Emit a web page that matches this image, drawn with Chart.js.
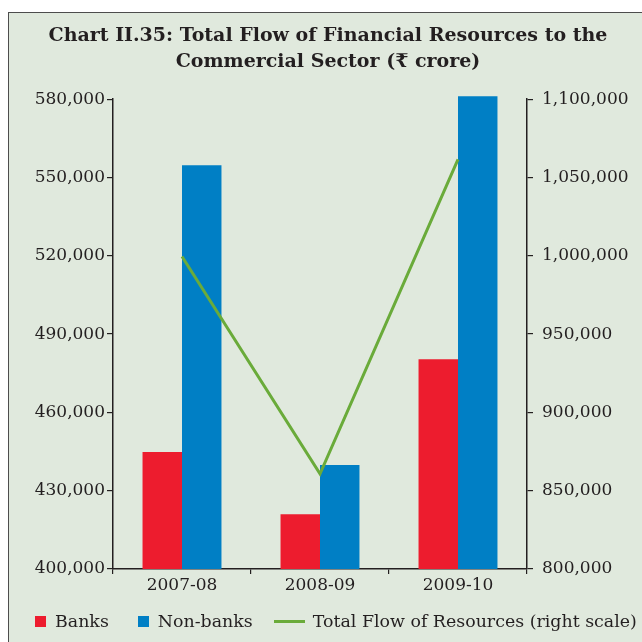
<!DOCTYPE html>
<html>
<head>
<meta charset="utf-8">
<script src="https://cdn.jsdelivr.net/npm/chart.js@4.4.0/dist/chart.umd.min.js"></script>
<style>
  html, body { margin: 0; padding: 0; width: 642px; height: 642px; overflow: hidden; background: #fff; }
  #frame {
    position: absolute; left: 8px; top: 12px; width: 700px; height: 700px;
    background: #e0e9dd; border-left: 1.5px solid #4d4d4d; border-top: 1.5px solid #4d4d4d;
  }
  #wrap { position: absolute; left: 0; top: 0; width: 642px; height: 642px; }
  #legend {
    position: absolute; left: 35px; top: 611px; display: flex; align-items: center;
    font-family: "DejaVu Serif", serif; font-size: 17.4px; color: #231f20; white-space: nowrap;
  }
  .sw { display: inline-block; width: 11px; height: 11px; margin-right: 9px; }
  .ln { display: inline-block; width: 31px; height: 3px; margin-right: 8px; }
  .item { display: flex; align-items: center; margin-right: 29px; }
  .item.mid { margin-right: 21px; }
  .item.last { margin-right: 0; }
</style>
</head>
<body>
<div id="frame"></div>
<div id="wrap"><canvas id="chart" width="642" height="642"></canvas></div>
<div id="legend"></div>
<script>
const years = ["2007-08", "2008-09", "2009-10"];
const banks = [444800, 421000, 480400];
const nonBanks = [554700, 439800, 581100];
const totalFlow = [999500, 860800, 1061500];

const leftTicks = { min: 400000, max: 580000, step: 30000 };
const rightTicks = { min: 800000, max: 1100000, step: 50000 };

const red = "#ed1c2e";
const blue = "#007fc5";
const green = "#6aab3a";
const ink = "#231f20";
const tickFont = { family: "DejaVu Serif", size: 17 };

const ctx = document.getElementById("chart").getContext("2d");
new Chart(ctx, {
  data: {
    labels: years,
    datasets: [
      {
        type: "bar", label: "Banks", data: banks, backgroundColor: red,
        yAxisID: "y", order: 1, categoryPercentage: 0.572, barPercentage: 1,
      },
      {
        // last bar pokes a little above the top of the scale, as in the original
        type: "bar", label: "Non-banks", data: nonBanks, backgroundColor: blue,
        yAxisID: "y", order: 1, categoryPercentage: 0.572, barPercentage: 1,
        clip: { left: 0, right: 0, top: 6, bottom: 0 },
      },
      {
        type: "line", label: "Total Flow of Resources (right scale)", data: totalFlow,
        borderColor: green, borderWidth: 3, pointRadius: 0, tension: 0,
        yAxisID: "y1", order: 0,
      },
    ],
  },
  options: {
    responsive: false,
    animation: false,
    layout: { padding: { left: 14, right: 0, top: 0, bottom: 43 } },
    plugins: {
      legend: { display: false },
      tooltip: { enabled: false },
      title: {
        display: true,
        text: ["Chart II.35: Total Flow of Financial Resources to the", "Commercial Sector (\u20b9 crore)"],
        color: ink,
        font: { family: "DejaVu Serif", size: 19, weight: "bold", lineHeight: 1.32 },
        padding: { top: 24, bottom: 25 },
      },
    },
    scales: {
      x: {
        grid: { display: true, drawOnChartArea: false, tickLength: 5, color: ink, lineWidth: 1.2 },
        border: { display: true, color: ink, width: 1.5 },
        ticks: { color: ink, font: tickFont, padding: 1 },
        afterFit: (s) => { s.height = 30; },
      },
      y: {
        position: "left",
        min: leftTicks.min, max: leftTicks.max,
        grid: { display: true, drawOnChartArea: false, tickLength: 6, color: ink, lineWidth: 1.2 },
        border: { display: true, color: ink, width: 1.5 },
        ticks: { stepSize: leftTicks.step, color: ink, font: tickFont, padding: 2 },
        afterFit: (s) => { s.width = 99; },
      },
      y1: {
        position: "right",
        min: rightTicks.min, max: rightTicks.max,
        grid: { display: true, drawOnChartArea: false, tickLength: 6, color: ink, lineWidth: 1.2 },
        border: { display: true, color: ink, width: 1.5 },
        ticks: { stepSize: rightTicks.step, color: ink, font: tickFont, padding: 9 },
        afterFit: (s) => { s.width = 115; },
      },
    },
  },
});

// legend drawn as plain html below the plot
const legendItems = [
  { label: "Banks", color: red, kind: "sw", cls: "" },
  { label: "Non-banks", color: blue, kind: "sw", cls: "mid" },
  { label: "Total Flow of Resources (right scale)", color: green, kind: "ln", cls: "last" },
];
const legend = document.getElementById("legend");
legendItems.forEach((it) => {
  const d = document.createElement("div");
  d.className = "item " + it.cls;
  const m = document.createElement("span");
  m.className = it.kind;
  m.style.background = it.color;
  const t = document.createElement("span");
  t.textContent = it.label;
  d.appendChild(m);
  d.appendChild(t);
  legend.appendChild(d);
});
</script>
</body>
</html>
